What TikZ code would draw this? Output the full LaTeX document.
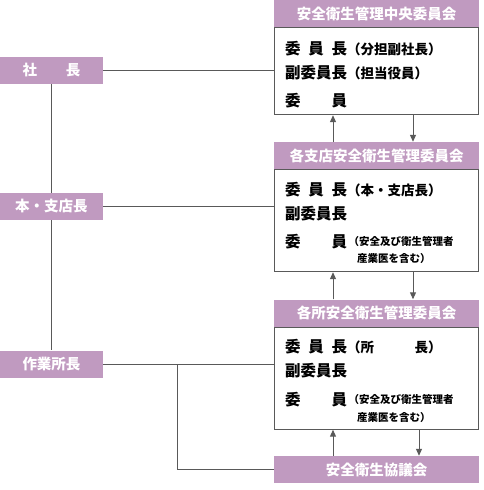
\documentclass[tikz,border=0pt]{standalone}
\usepackage{fontspec}
\setmainfont{Noto Sans CJK JP}
\usepackage{tikz}
\usetikzlibrary{positioning, arrows.meta}
\definecolor{orgpurple}{HTML}{C09AC0}
\definecolor{linegray}{HTML}{595959}
\newcommand\spreadword[1]{\makebox[4em][s]{#1}}
\newcommand\paren[1]{{\fontsize{13.5}{15}\selectfont #1}}

\begin{document}
\begin{tikzpicture}[
  x=1pt, y=-1pt,
  every node/.style={font=\fontsize{15.5}{17}\selectfont\bfseries},
  role/.style={
    fill=orgpurple,
    minimum width=103pt,
    minimum height=27pt,
    inner sep=0pt,
    text=white,
    font=\fontsize{14.5}{16}\selectfont\bfseries,
  },
  header/.style={role, minimum width=205pt},
  panel/.style={
    draw=linegray,
    line width=1pt,
    minimum width=204pt,
    fill=white,
    inner sep=0pt,
  },
  entry/.style={anchor=west, inner sep=0pt},
  note/.style={anchor=west, inner sep=0pt, font=\fontsize{10.5}{12}\selectfont\bfseries},
  link/.style={
    -{Triangle[length=7pt,width=6pt]},
    draw=linegray,
    fill=linegray,
    line width=1pt,
  },
  wire/.style={draw=linegray, line width=1pt},
]
  \useasboundingbox (0,0) rectangle (483,490);

  % committees on the right
  \node[header] (hdrA) at (376.5,13.5) {安全衛生管理中央委員会};
  \node[panel, minimum height=87pt, below=0pt of hdrA] (panelA) {};
  \node[header] (hdrB) at (376.5,155.5) {各支店安全衛生管理委員会};
  \node[panel, minimum height=102pt, below=0pt of hdrB] (panelB) {};
  \node[header] (hdrC) at (376.5,313) {各所安全衛生管理委員会};
  \node[panel, minimum height=102pt, below=0pt of hdrC] (panelC) {};
  \node[header] (hdrD) at (376.5,469.5) {安全衛生協議会};

  % members
  \node[entry] (chairA) at ([shift={(11,21)}]panelA.north west) {\spreadword{委\hfill 員\hfill 長}\paren{（分担副社長）}};
  \node[entry] (viceA) at ([shift={(11,45)}]panelA.north west) {\spreadword{副委員長}\paren{（担当役員）}};
  \node[entry] (memberA) at ([shift={(11,73)}]panelA.north west) {\spreadword{委\hfill 員}};

  \node[entry] (chairB) at ([shift={(11,20)}]panelB.north west) {\spreadword{委\hfill 員\hfill 長}\paren{（本・支店長）}};
  \node[entry] (viceB) at ([shift={(11,44)}]panelB.north west) {\spreadword{副委員長}};
  \node[entry] (memberB) at ([shift={(11,72)}]panelB.north west) {\spreadword{委\hfill 員}};
  \node[note, right=1pt of memberB] (noteB) {（安全及び衛生管理者};
  \node[note] (noteB2) at ([shift={(83,89)}]panelB.north west) {産業医を含む）};

  \node[entry] (chairC) at ([shift={(11,20)}]panelC.north west) {\spreadword{委\hfill 員\hfill 長}\paren{（所　　　長）}};
  \node[entry] (viceC) at ([shift={(11,44)}]panelC.north west) {\spreadword{副委員長}};
  \node[entry] (memberC) at ([shift={(11,73)}]panelC.north west) {\spreadword{委\hfill 員}};
  \node[note, right=1pt of memberC] (noteC) {（安全及び衛生管理者};
  \node[note] (noteC2) at ([shift={(83,91)}]panelC.north west) {産業医を含む）};

  % managers on the left
  \node[role] (president) at (51.5,70.5) {社　　長};
  \node[role] (branch) at (51.5,206.5) {本・支店長};
  \node[role] (site) at (51.5,364) {作業所長};
  \coordinate (fork) at (177,364);

  \draw[wire] (president) -- (branch);
  \draw[wire] (branch) -- (site);
  \draw[wire] (president.east) -- (panelA.west |- president.east);
  \draw[wire] (branch.east) -- (panelB.west |- branch.east);
  \draw[wire] (site.east) -- (panelC.west |- site.east);
  \draw[wire] (fork) |- (hdrD.west);

  \draw[link] ([xshift=-43.5pt]hdrB.north) -- ([xshift=-43.5pt]panelA.south);
  \draw[link] ([xshift=36.5pt]panelA.south) -- ([xshift=36.5pt]hdrB.north);
  \draw[link] ([xshift=-43.5pt]hdrC.north) -- ([xshift=-43.5pt]panelB.south);
  \draw[link] ([xshift=36.5pt]panelB.south) -- ([xshift=36.5pt]hdrC.north);
  \draw[link] ([xshift=-43.5pt]hdrD.north) -- ([xshift=-43.5pt]panelC.south);
  \draw[link] ([xshift=42.5pt]panelC.south) -- ([xshift=42.5pt]hdrD.north);
\end{tikzpicture}
\end{document}
